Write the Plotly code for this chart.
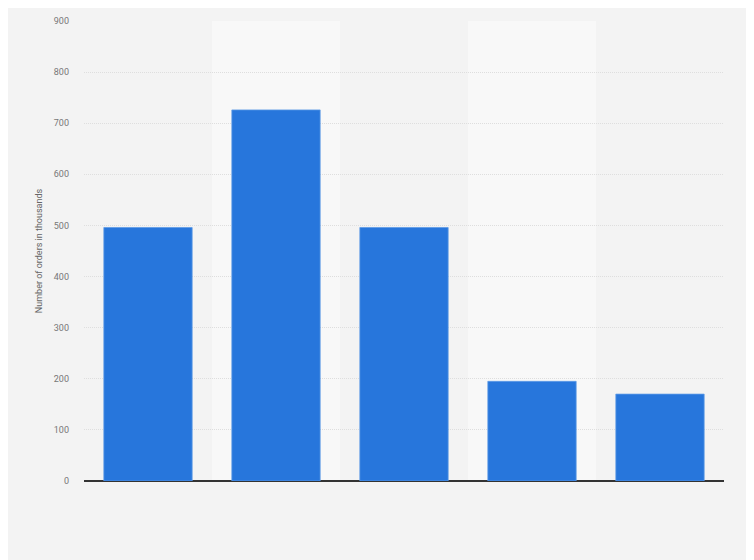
import plotly.graph_objects as go

# Bar data (x-axis labels are not shown in the reference)
categories = ["A", "B", "C", "D", "E"]
orders = [496, 726, 496, 195, 170]
y_ticks = [0, 100, 200, 300, 400, 500, 600, 700, 800, 900]

fig = go.Figure()

fig.add_trace(go.Bar(
    x=categories, y=orders,
    marker=dict(color="#2776dc", line=dict(color="#5e9be6", width=0.8)),
    width=0.69,
))

# lighter background bands behind every second category
shapes = []
for i, c in enumerate(categories):
    if i % 2 == 1:
        shapes.append(dict(type="rect", xref="x", yref="paper",
                           x0=i - 0.5, x1=i + 0.5, y0=0, y1=1,
                           fillcolor="#f8f8f8", line=dict(width=0), layer="below"))

fig.update_layout(
    width=746, height=552,
    paper_bgcolor="#f3f3f3", plot_bgcolor="#f3f3f3",
    margin=dict(l=76, r=30, t=8, b=79),
    font=dict(family="Roboto, Arial, sans-serif", color="#777777", size=9),
    showlegend=False,
    shapes=shapes,
    xaxis=dict(showticklabels=False, showgrid=False, range=[-0.5, 4.5],
               showline=False, zeroline=False),
    yaxis=dict(range=[0, 900], tickvals=y_ticks, showgrid=True,
               gridcolor="#dedede", griddash="1px,1px", gridwidth=1,
               zeroline=True, zerolinecolor="#333333", zerolinewidth=1.5,
               ticks="", ticklabelstandoff=14,
               title=dict(text="Number of orders in thousands", standoff=9,
                          font=dict(size=9, color="#666666"))),
)

fig.write_html("out.html")
